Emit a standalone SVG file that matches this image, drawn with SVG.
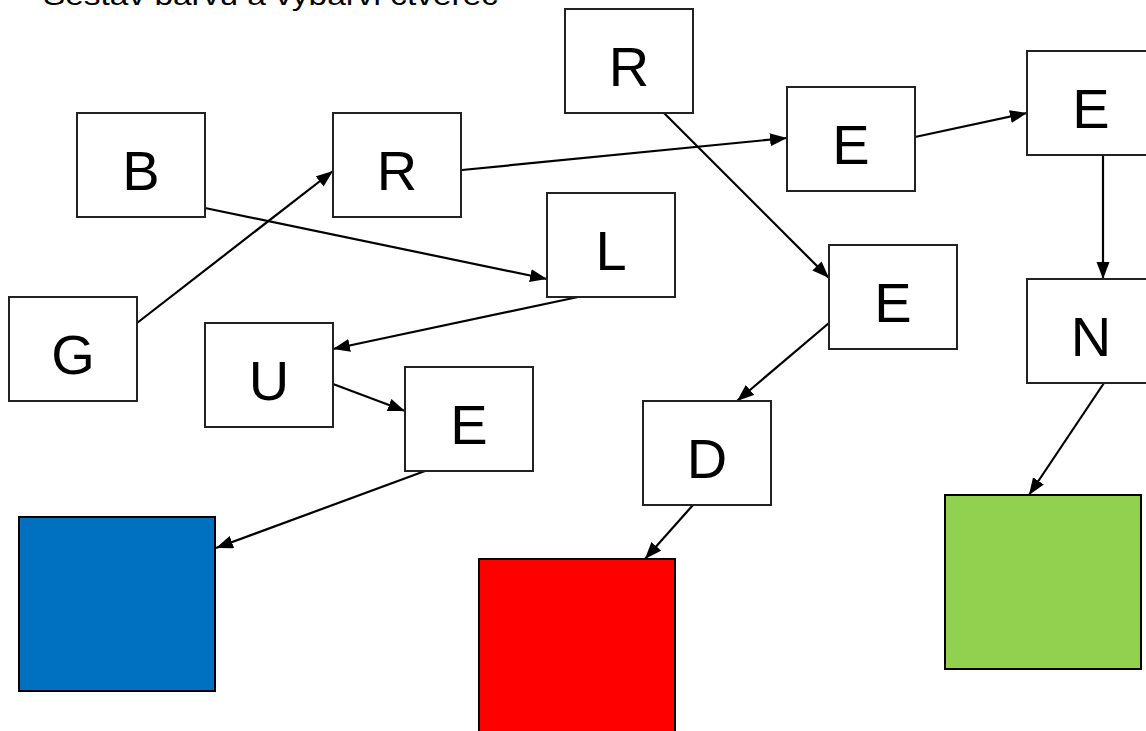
<svg xmlns="http://www.w3.org/2000/svg" width="1146" height="731" viewBox="0 0 1146 731">
<style>
.box{fill:#fff;stroke:#222;stroke-width:2}
.lbl{font-family:"Liberation Sans",Arial,sans-serif;font-size:56px;fill:#000;text-anchor:middle}
.conn line{stroke:#000;stroke-width:2.2;marker-end:url(#ah)}
.title{font-family:"Liberation Sans",Arial,sans-serif;font-size:28px;fill:#000}
</style>
<defs>
<marker id="ah" markerUnits="userSpaceOnUse" markerWidth="18" markerHeight="14" refX="17" refY="6.5" orient="auto">
<path d="M0,0 L17,6.5 L0,13 z" fill="#000"/>
</marker>
</defs>
<rect width="1146" height="731" fill="#fff"/>
<text class="title" x="43" y="5" textLength="455" lengthAdjust="spacingAndGlyphs">Sestav barvu a vybarvi čtverec</text>

<g id="connectors" class="conn">
<line x1="137" y1="323" x2="333" y2="171"/>
<line x1="205" y1="208" x2="547" y2="279"/>
<line x1="462" y1="170" x2="787" y2="138"/>
<line x1="915" y1="137" x2="1027" y2="113"/>
<line x1="664" y1="113" x2="829" y2="278"/>
<line x1="1103" y1="155" x2="1103" y2="279"/>
<line x1="578" y1="297" x2="333" y2="349"/>
<line x1="333" y1="384" x2="405" y2="411"/>
<line x1="829" y1="323" x2="737" y2="401"/>
<line x1="425" y1="471" x2="216" y2="548"/>
<line x1="693" y1="505" x2="645" y2="559"/>
<line x1="1104" y1="383" x2="1029" y2="495"/>
</g>

<g id="node-B"><rect class="box" x="77" y="113" width="128" height="104"/><text class="lbl" x="141" y="190">B</text></g>
<g id="node-R1"><rect class="box" x="333" y="113" width="128" height="104"/><text class="lbl" x="397" y="190">R</text></g>
<g id="node-G"><rect class="box" x="9" y="297" width="128" height="104"/><text class="lbl" x="73" y="374">G</text></g>
<g id="node-U"><rect class="box" x="205" y="323" width="128" height="104"/><text class="lbl" x="269" y="400">U</text></g>
<g id="node-E4"><rect class="box" x="405" y="367" width="128" height="104"/><text class="lbl" x="469" y="444">E</text></g>
<g id="node-R2"><rect class="box" x="565" y="9" width="128" height="104"/><text class="lbl" x="629" y="86">R</text></g>
<g id="node-L"><rect class="box" x="547" y="193" width="128" height="104"/><text class="lbl" x="611" y="270">L</text></g>
<g id="node-E1"><rect class="box" x="787" y="87" width="128" height="104"/><text class="lbl" x="851" y="164">E</text></g>
<g id="node-E2"><rect class="box" x="1027" y="51" width="128" height="104"/><text class="lbl" x="1091" y="128">E</text></g>
<g id="node-E3"><rect class="box" x="829" y="245" width="128" height="104"/><text class="lbl" x="893" y="322">E</text></g>
<g id="node-N"><rect class="box" x="1027" y="279" width="128" height="104"/><text class="lbl" x="1091" y="356">N</text></g>
<g id="node-D"><rect class="box" x="643" y="401" width="128" height="104"/><text class="lbl" x="707" y="478">D</text></g>
<g id="node-blue"><rect x="19" y="517" width="196" height="174" fill="#0070C0" stroke="#000" stroke-width="2"/></g>
<g id="node-red"><rect x="479" y="559" width="196" height="180" fill="#FF0000" stroke="#000" stroke-width="2"/></g>
<g id="node-green"><rect x="945" y="495" width="196" height="174" fill="#92D050" stroke="#000" stroke-width="2"/></g>
</svg>
